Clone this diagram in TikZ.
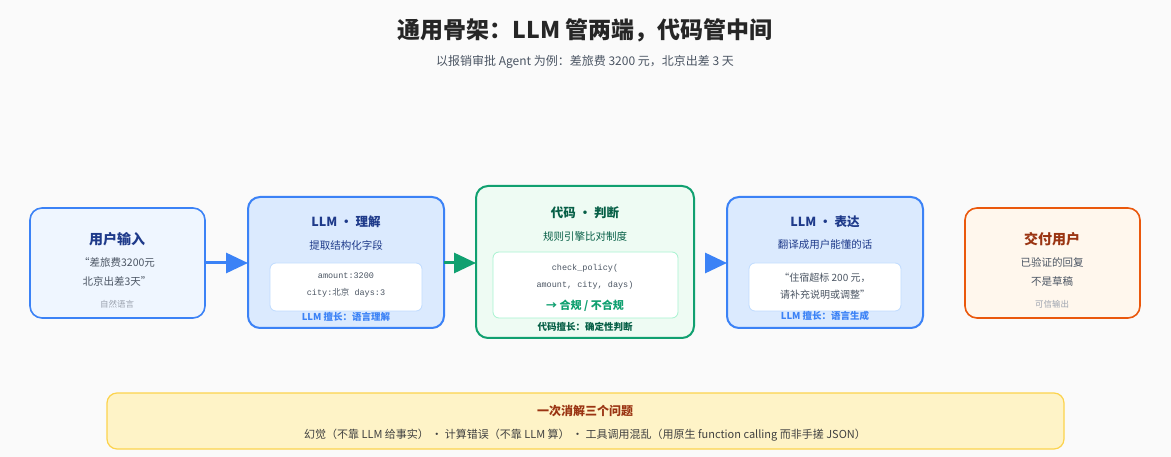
\documentclass[tikz,border=0pt]{standalone}
\usepackage{fontspec}
\setmainfont{Noto Sans CJK SC}
\setmonofont{Liberation Mono}
\newfontfamily\cjk{Noto Sans CJK SC}
\usetikzlibrary{arrows.meta}
\definecolor{bg}{HTML}{FAFAFA}
\definecolor{blu}{HTML}{3B82F6}
\definecolor{blul}{HTML}{EFF6FF}
\definecolor{blum}{HTML}{DBEAFE}
\definecolor{bluin}{HTML}{BFDBFE}
\definecolor{bluT}{HTML}{1E3A8A}
\definecolor{grn}{HTML}{10A070}
\definecolor{grnl}{HTML}{EEFBF3}
\definecolor{grnin}{HTML}{A7F3D0}
\definecolor{grnT}{HTML}{065F46}
\definecolor{org}{HTML}{EA580C}
\definecolor{orgl}{HTML}{FFF7ED}
\definecolor{orgT}{HTML}{9A3412}
\definecolor{yel}{HTML}{FEF3C7}
\definecolor{yelb}{HTML}{FCD34D}
\definecolor{txt}{HTML}{4B5563}
\definecolor{lite}{HTML}{9CA3AF}
\begin{document}
\begin{tikzpicture}[x=1pt,y=-1pt,
 box/.style={draw, rounded corners=12pt, line width=2pt},
 inner/.style={draw, fill=white, rounded corners=6pt, line width=0.8pt},
 t/.style={inner sep=0pt, align=center},
 arr/.style={line width=3pt, -{Triangle[length=22pt,width=20pt]}}]
\fill[bg] (0,0) rectangle (1171,457);
\useasboundingbox (0,0) rectangle (1171,457);
\node[t,font=\bfseries\fontsize{23}{25}\selectfont,text=black!85] (title) at (585,30) {通用骨架：LLM 管两端，代码管中间};
\node[t,font=\fontsize{12}{14}\selectfont,text=txt] (sub) at (585,62) {以报销审批 Agent 为例：差旅费 3200 元，北京出差 3 天};
% boxes
\draw[box,draw=blu,fill=blul,line width=1.6pt] (30,208) rectangle (205,318);
\coordinate (b1e) at (205,263);
\draw[box,draw=blu,fill=blum] (248,197) rectangle (444,328);
\coordinate (b2w) at (248,263); \coordinate (b2e) at (444,263);
\draw[box,draw=grn,fill=grnl] (476,186) rectangle (694,338);
\coordinate (b3w) at (476,263); \coordinate (b3e) at (707,263);
\draw[box,draw=blu,fill=blum] (727,197) rectangle (923,328);
\coordinate (b4w) at (727,263);
\draw[box,draw=org,fill=orgl,line width=1.6pt] (965,208) rectangle (1140,318);
\draw[inner,draw=bluin] (270,263) rectangle (422,311);
\draw[inner,draw=grnin] (493,252) rectangle (678,318);
\draw[inner,draw=bluin] (749,263) rectangle (901,311);
\draw[rounded corners=10pt,draw=yelb,fill=yel,line width=1.2pt] (107,393) rectangle (1064,449);
% box1
\node[t,font=\bfseries\fontsize{14}{16}\selectfont,text=bluT] (n1a) at (117,239) {用户输入};
\node[t,font=\fontsize{10.5}{19}\selectfont,text=txt] (n1b) at (117,272) {“差旅费3200元\\北京出差3天”};
\node[t,font=\fontsize{8.5}{10}\selectfont,text=lite] (n1c) at (117,304) {自然语言};
% box2
\node[t,font=\bfseries\fontsize{12.5}{14}\selectfont,text=bluT] (n2a) at (346,222) {LLM · 理解};
\node[t,font=\fontsize{10.5}{12}\selectfont,text=bluT] (n2b) at (346,245) {提取结构化字段};
\node[t,font=\ttfamily\fontsize{8.5}{17}\selectfont,text=txt] (n2c) at (346,285) {amount:3200\\city:{\cjk 北京} days:3};
\node[t,font=\bfseries\fontsize{9.5}{11}\selectfont,text=blu] (n2d) at (346,317) {LLM 擅长：语言理解};
% box3
\node[t,font=\bfseries\fontsize{12.5}{14}\selectfont,text=grnT] (n3a) at (585,213) {代码 · 判断};
\node[t,font=\fontsize{10.5}{12}\selectfont,text=grnT] (n3b) at (585,236) {规则引擎比对制度};
\node[t,font=\ttfamily\fontsize{8.5}{17}\selectfont,text=txt] (n3c) at (585,277) {check\_policy(\\amount, city, days)};
\node[t,font=\bfseries\fontsize{11}{12}\selectfont,text=grn] (n3d) at (585,306) {→ 合规 / 不合规};
\node[t,font=\bfseries\fontsize{9.5}{11}\selectfont,text=grnT] (n3e) at (585,327) {代码擅长：确定性判断};
% box4
\node[t,font=\bfseries\fontsize{12.5}{14}\selectfont,text=bluT] (n4a) at (825,222) {LLM · 表达};
\node[t,font=\fontsize{10.5}{12}\selectfont,text=bluT] (n4b) at (825,245) {翻译成用户能懂的话};
\node[t,font=\fontsize{10}{17}\selectfont,text=txt] (n4c) at (825,286) {“住宿超标 200 元，\\请补充说明或调整”};
\node[t,font=\bfseries\fontsize{9.5}{11}\selectfont,text=blu] (n4d) at (825,316) {LLM 擅长：语言生成};
% box5
\node[t,font=\bfseries\fontsize{14}{16}\selectfont,text=orgT] (n5a) at (1052,239) {交付用户};
\node[t,font=\fontsize{10.5}{19}\selectfont,text=txt] (n5b) at (1052,272) {已验证的回复\\不是草稿};
\node[t,font=\fontsize{8.5}{10}\selectfont,text=lite] (n5c) at (1052,304) {可信输出};
% bottom
\node[t,font=\bfseries\fontsize{12}{13}\selectfont,text=orgT] (y1) at (585,411) {一次消解三个问题};
\node[t,font=\fontsize{11}{12}\selectfont,text=black!75] (y2) at (585,435) {幻觉（不靠 LLM 给事实） · 计算错误（不靠 LLM 算） · 工具调用混乱（用原生 function calling 而非手搓 JSON）};
% arrows
\draw[arr,blu] (b1e) -- (b2w);
\draw[arr,grn] (b2e) -- (b3w);
\draw[arr,blu] (b3e) -- (b4w);
\end{tikzpicture}
\end{document}
